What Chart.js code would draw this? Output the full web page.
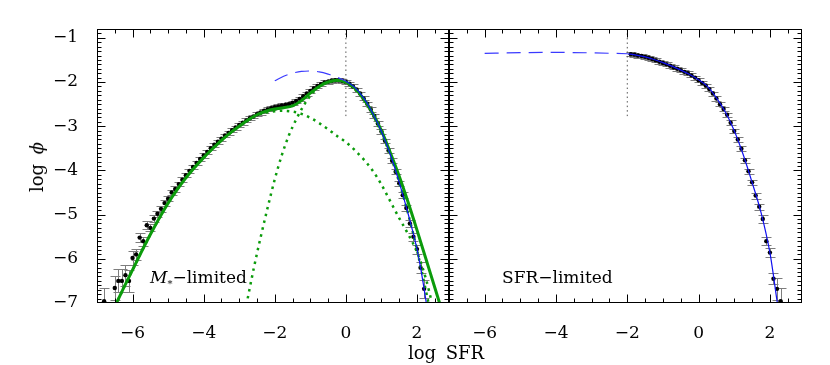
<!DOCTYPE html>
<html>
<head>
<meta charset="utf-8">
<script src="https://cdn.jsdelivr.net/npm/chart.js@4.4.0/dist/chart.umd.min.js"></script>
<style>
  body { margin: 0; background: #fff; }
  #wrap { position: relative; width: 830px; height: 365px; font-family: "DejaVu Serif", serif; color: #000; }
  canvas { position: absolute; top: 0; }
  .lbl { position: absolute; white-space: nowrap; font-size: 17px; line-height: 20px; }
</style>
</head>
<body>
<div id="wrap">
  <canvas id="leftPanel" width="460" height="365" style="left:0"></canvas>
  <canvas id="rightPanel" width="430" height="365" style="left:400px"></canvas>
  <div class="lbl" style="left:150px;top:267px"><i>M</i><sub style="font-size:10px">*</sub>&minus;limited</div>
  <div class="lbl" style="left:502px;top:267px">SFR&minus;limited</div>
  <div class="lbl" style="left:446px;top:353px;font-size:18px;word-spacing:4px;transform:translate(-50%,-50%)">log SFR</div>
  <div class="lbl" style="left:37px;top:167px;font-size:18px;word-spacing:4px;transform:translate(-50%,-50%) rotate(-90deg)">log <i>&#x3D5;</i></div>
</div>
<script>
// axis ticks
const xTicks = [-6, -4, -2, 0, 2];
const yTicks = [-7, -6, -5, -4, -3, -2, -1];

// M*-limited sample (left panel)
const leftSfr = [-6.8, -6.5, -6.4, -6.3, -6.2, -6.1, -6.0, -5.9, -5.8, -5.7, -5.6, -5.5, -5.4, -5.3, -5.2, -5.1, -5.0,
  -4.9, -4.8, -4.7, -4.6, -4.5, -4.4, -4.3, -4.2, -4.1, -4.0, -3.9, -3.8, -3.7, -3.6, -3.5, -3.4, -3.3, -3.2, -3.1, -3.0,
  -2.9, -2.8, -2.7, -2.6, -2.5, -2.4, -2.3, -2.2, -2.1, -2.0, -1.9, -1.8, -1.7, -1.6, -1.5, -1.4, -1.3, -1.2, -1.1, -1.0,
  -0.9, -0.8, -0.7, -0.6, -0.5, -0.4, -0.3, -0.2, -0.1, 0.0, 0.1, 0.2, 0.3, 0.4, 0.5, 0.6, 0.7, 0.8, 0.9, 1.0,
  1.1, 1.2, 1.3, 1.4, 1.5, 1.6, 1.7, 1.8, 1.9, 2.0, 2.1, 2.2];
const leftPhi = [-6.96, -6.66, -6.50, -6.50, -6.37, -6.50, -5.98, -5.90, -5.52, -5.60, -5.24, -5.30, -5.09, -4.98, -4.87, -4.74, -4.64,
  -4.50, -4.42, -4.31, -4.21, -4.11, -4.01, -3.92, -3.83, -3.74, -3.66, -3.58, -3.50, -3.42, -3.35, -3.28, -3.21, -3.15, -3.09, -3.03, -2.97,
  -2.92, -2.87, -2.82, -2.78, -2.73, -2.69, -2.65, -2.62, -2.59, -2.57, -2.55, -2.53, -2.52, -2.50, -2.47, -2.43, -2.38, -2.32, -2.26, -2.20,
  -2.14, -2.09, -2.05, -2.01, -1.99, -1.97, -1.96, -1.96, -1.97, -2.00, -2.04, -2.10, -2.17, -2.26, -2.37, -2.49, -2.62, -2.77, -2.94, -3.12,
  -3.33, -3.55, -3.78, -4.03, -4.29, -4.56, -4.85, -5.20, -5.50, -5.78, -6.20, -6.68];
const leftErr = [0.30, 0.28, 0.26, 0.26, 0.24, 0.24, 0.15, 0.13, 0.11, 0.10, 0.09, 0.08, 0.08, 0.07, 0.07, 0.06, 0.06,
  0.06, 0.06, 0.05, 0.05, 0.05, 0.05, 0.05, 0.05, 0.05, 0.05, 0.045, 0.045, 0.045, 0.045, 0.045, 0.045, 0.045, 0.045, 0.045, 0.045,
  0.045, 0.045, 0.045, 0.045, 0.045, 0.045, 0.045, 0.045, 0.045, 0.045, 0.045, 0.045, 0.045, 0.045, 0.045, 0.045, 0.045, 0.045, 0.045, 0.045,
  0.045, 0.045, 0.045, 0.045, 0.045, 0.045, 0.045, 0.045, 0.045, 0.045, 0.045, 0.045, 0.045, 0.045, 0.045, 0.045, 0.05, 0.05, 0.05, 0.05,
  0.05, 0.05, 0.06, 0.06, 0.06, 0.07, 0.07, 0.08, 0.09, 0.10, 0.13, 0.20];

// total fit (green solid) and its two components (green dotted)
const totalSfr = [-6.5, -6.25, -6.0, -5.75, -5.5, -5.25, -5.0, -4.75, -4.5, -4.25, -4.0, -3.75, -3.5, -3.25, -3.0, -2.75,
  -2.5, -2.25, -2.0, -1.75, -1.5, -1.25, -1.0, -0.75, -0.5, -0.25, 0.0, 0.25, 0.5, 0.75, 1.0, 1.25, 1.5, 1.75, 2.0, 2.25, 2.5, 2.7];
const totalPhi = [-7.08, -6.66, -6.25, -5.84, -5.45, -5.08, -4.74, -4.44, -4.17, -3.93, -3.71, -3.51, -3.32, -3.15, -3.00, -2.86,
  -2.74, -2.66, -2.61, -2.58, -2.54, -2.42, -2.25, -2.10, -2.00, -1.96, -2.00, -2.14, -2.38, -2.70, -3.10, -3.60, -4.13, -4.72, -5.35, -6.00, -6.65, -7.17];
const broadSfr = [-6.5, -6.0, -5.5, -5.0, -4.5, -4.0, -3.5, -3.0, -2.5, -2.25, -2.0, -1.75, -1.5, -1.25, -1.0, -0.75, -0.5,
  -0.25, 0.0, 0.25, 0.5, 0.75, 1.0, 1.25, 1.5, 1.75, 2.0, 2.25, 2.45];
const broadPhi = [-7.08, -6.25, -5.45, -4.74, -4.17, -3.71, -3.32, -3.00, -2.75, -2.69, -2.66, -2.65, -2.67, -2.72, -2.81, -2.93, -3.07,
  -3.22, -3.36, -3.54, -3.75, -4.00, -4.32, -4.70, -5.08, -5.44, -5.85, -6.45, -7.10];
const narrowSfr = [-2.8, -2.6, -2.4, -2.2, -2.0, -1.8, -1.6, -1.4, -1.2, -1.0, -0.8, -0.6, -0.4, -0.2, 0.0, 0.25, 0.5,
  0.75, 1.0, 1.25, 1.5, 1.75, 2.0, 2.25, 2.4];
const narrowPhi = [-7.05, -6.25, -5.52, -4.84, -4.20, -3.65, -3.20, -2.85, -2.55, -2.31, -2.14, -2.03, -1.98, -1.97, -2.02, -2.16, -2.40,
  -2.73, -3.15, -3.66, -4.27, -4.98, -5.80, -6.72, -7.30];

// high-SFR fit (blue), solid above the cut, dashed extrapolation below
const leftFitSfr = [0.0, 0.25, 0.5, 0.75, 1.0, 1.25, 1.5, 1.75, 2.0, 2.1, 2.2, 2.3];
const leftFitPhi = [-1.98, -2.12, -2.36, -2.70, -3.12, -3.64, -4.27, -4.98, -5.78, -6.20, -6.68, -7.20];
const leftExtSfr = [-2.0, -1.75, -1.5, -1.25, -1.0, -0.75, -0.5, -0.25, 0.0];
const leftExtPhi = [-1.97, -1.87, -1.80, -1.76, -1.75, -1.77, -1.82, -1.89, -1.98];

// SFR-limited sample (right panel)
const rightSfr = [-1.9, -1.8, -1.7, -1.6, -1.5, -1.4, -1.3, -1.2, -1.1, -1.0, -0.9, -0.8, -0.7, -0.6, -0.5, -0.4, -0.3,
  -0.2, -0.1, 0.0, 0.1, 0.2, 0.3, 0.4, 0.5, 0.6, 0.7, 0.8, 0.9, 1.0, 1.1, 1.2, 1.3, 1.4, 1.5, 1.6, 1.7, 1.8, 1.9, 2.0, 2.1, 2.2, 2.3];
const rightPhi = [-1.37, -1.38, -1.40, -1.41, -1.43, -1.45, -1.48, -1.51, -1.54, -1.57, -1.60, -1.63, -1.67, -1.70, -1.73, -1.77, -1.80,
  -1.85, -1.90, -1.96, -2.02, -2.08, -2.16, -2.26, -2.37, -2.50, -2.61, -2.74, -2.92, -3.11, -3.30, -3.51, -3.77, -4.02, -4.27, -4.57, -4.82, -5.10, -5.60, -5.86, -6.45, -6.68, -6.96];
const rightErr = [0.045, 0.045, 0.045, 0.045, 0.045, 0.045, 0.045, 0.045, 0.045, 0.045, 0.045, 0.045, 0.045, 0.045, 0.045, 0.045, 0.045,
  0.045, 0.045, 0.045, 0.045, 0.045, 0.045, 0.045, 0.05, 0.05, 0.05, 0.05, 0.05, 0.05, 0.05, 0.06, 0.06, 0.06, 0.06, 0.07, 0.07, 0.08, 0.09, 0.10, 0.13, 0.25, 0.30];
const rightFitSfr = [-2.0, -1.75, -1.5, -1.25, -1.0, -0.75, -0.5, -0.25, 0.0, 0.25, 0.5, 0.75, 1.0, 1.25, 1.5, 1.75, 2.0, 2.1, 2.2, 2.3];
const rightFitPhi = [-1.36, -1.39, -1.43, -1.49, -1.56, -1.64, -1.73, -1.83, -1.95, -2.10, -2.36, -2.68, -3.10, -3.64, -4.27, -4.95, -5.86, -6.38, -6.95, -7.40];
const rightExtSfr = [-6.0, -5.0, -4.0, -3.0, -2.0];
const rightExtPhi = [-1.35, -1.335, -1.33, -1.34, -1.36];

// completeness cuts (vertical dotted lines)
const leftCut = 0;
const rightCut = -2;
const cutPhi = [-0.8, -2.8];

const pts = (xs, ys) => xs.map((x, i) => ({ x: x, y: ys[i] }));
const minusLabel = v => (v < 0 ? '\u2212' + Math.abs(v) : String(v));

// error bars drawn through the chart scales
const errorBars = {
  id: 'errorBars',
  beforeDatasetsDraw(chart) {
    const { ctx, chartArea: a, scales: { x, y } } = chart;
    const ds = chart.data.datasets.find(d => d.errors);
    if (!ds) return;
    ctx.save();
    ctx.beginPath();
    ctx.rect(a.left, a.top, a.right - a.left, a.bottom - a.top);
    ctx.clip();
    ctx.strokeStyle = '#7d7d7d';
    ctx.lineWidth = 1;
    ds.data.forEach((p, i) => {
      const e = ds.errors[i];
      const px = Math.round(x.getPixelForValue(p.x)) + 0.5;
      const y1 = Math.round(y.getPixelForValue(p.y - e)) + 0.5;
      const y2 = Math.round(y.getPixelForValue(p.y + e)) + 0.5;
      ctx.beginPath();
      ctx.moveTo(px, y1); ctx.lineTo(px, y2);
      ctx.moveTo(px - 5, y1); ctx.lineTo(px + 5, y1);
      ctx.moveTo(px - 5, y2); ctx.lineTo(px + 5, y2);
      ctx.stroke();
    });
    ctx.restore();
  }
};

// IDL style box with inward ticks on all four sides
const frameTicks = {
  id: 'frameTicks',
  afterDraw(chart) {
    const { ctx, chartArea: a, scales: { x, y } } = chart;
    const L = Math.round(a.left) + 0.5, R = Math.round(a.right) - 0.5;
    const T = Math.round(a.top) + 0.5, B = Math.round(a.bottom) - 0.5;
    ctx.save();
    ctx.strokeStyle = '#000';
    ctx.lineWidth = 1;
    ctx.strokeRect(L, T, R - L, B - T);
    ctx.beginPath();
    for (let k = -14; k <= 5; k++) {
      const v = k / 2;
      if (v <= x.min || v >= x.max) continue;
      const len = v % 2 === 0 ? 8 : 4;
      const px = Math.round(x.getPixelForValue(v)) + 0.5;
      ctx.moveTo(px, B); ctx.lineTo(px, B - len);
      ctx.moveTo(px, T); ctx.lineTo(px, T + len);
    }
    for (let k = -70; k <= -8; k++) {
      const v = k / 10;
      if (v <= y.min || v >= y.max) continue;
      const len = k % 10 === 0 ? 8 : 4;
      const py = Math.round(y.getPixelForValue(v)) + 0.5;
      ctx.moveTo(L, py); ctx.lineTo(L + len, py);
      ctx.moveTo(R, py); ctx.lineTo(R - len, py);
    }
    ctx.stroke();
    ctx.restore();
  }
};

function makeOptions(showY, pad) {
  return {
    responsive: false,
    animation: false,
    layout: { padding: pad },
    plugins: { legend: { display: false }, tooltip: { enabled: false } },
    scales: {
      x: {
        type: 'linear', min: -7, max: 2.9,
        grid: { display: false }, border: { display: false },
        afterBuildTicks: s => { s.ticks = xTicks.map(v => ({ value: v })); },
        afterFit: s => { s.height = 62; },
        ticks: { autoSkip: false, maxRotation: 0, padding: 12, color: '#000',
          font: { family: 'DejaVu Serif', size: 17 }, callback: minusLabel }
      },
      y: {
        type: 'linear', min: -7, max: -0.8, display: showY,
        grid: { display: false }, border: { display: false },
        afterBuildTicks: s => { s.ticks = yTicks.map(v => ({ value: v })); },
        afterFit: s => { s.width = showY ? 97 : 0; },
        ticks: { autoSkip: false, padding: 11, color: '#000',
          font: { family: 'DejaVu Serif', size: 17 }, callback: minusLabel }
      }
    }
  };
}

const green = '#0b9b0b';
const blue = '#1010f0';

function curve(data, color, width, dash, order) {
  return { type: 'scatter', data: data, showLine: true, pointRadius: 0, borderColor: color, borderWidth: width,
    borderDash: dash, cubicInterpolationMode: 'monotone', order: order };
}

new Chart(document.getElementById('leftPanel'), {
  type: 'scatter',
  data: {
    datasets: [
      curve(pts([leftCut, leftCut], cutPhi), '#555', 1, [1.5, 3], 0),
      curve(pts(leftFitSfr, leftFitPhi), blue, 1.2, [], 1),
      curve(pts(leftExtSfr, leftExtPhi), '#3a3aff', 1.2, [14, 8], 1),
      curve(pts(totalSfr, totalPhi), green, 3, [], 2),
      curve(pts(broadSfr, broadPhi), green, 2.5, [2.5, 4.5], 3),
      curve(pts(narrowSfr, narrowPhi), green, 2.5, [2.5, 4.5], 3),
      { type: 'scatter', data: pts(leftSfr, leftPhi), errors: leftErr, pointRadius: 2.2,
        pointBackgroundColor: '#000', pointBorderWidth: 0, order: 4 }
    ]
  },
  options: makeOptions(true, { left: 0, top: 29, right: 11, bottom: 0 }),
  plugins: [errorBars, frameTicks]
});

new Chart(document.getElementById('rightPanel'), {
  type: 'scatter',
  data: {
    datasets: [
      curve(pts([rightCut, rightCut], cutPhi), '#555', 1, [1.5, 3], 0),
      curve(pts(rightFitSfr, rightFitPhi), blue, 1.2, [], 1),
      curve(pts(rightExtSfr, rightExtPhi), '#3a3aff', 1.2, [14, 8], 1),
      { type: 'scatter', data: pts(rightSfr, rightPhi), errors: rightErr, pointRadius: 2.2,
        pointBackgroundColor: '#000', pointBorderWidth: 0, order: 4 }
    ]
  },
  options: makeOptions(false, { left: 49, top: 29, right: 28, bottom: 0 }),
  plugins: [errorBars, frameTicks]
});
</script>
</body>
</html>
